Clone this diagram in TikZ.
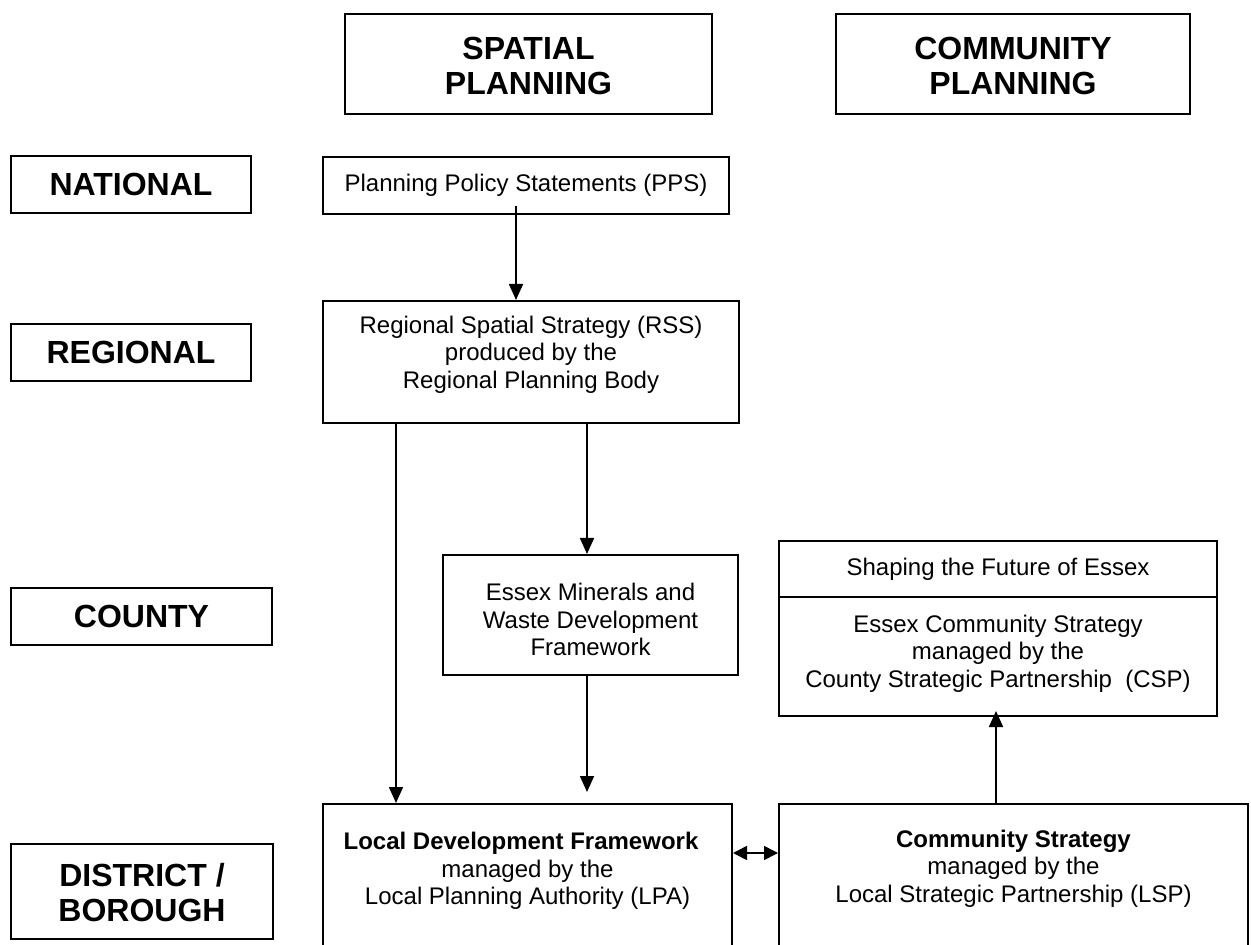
\documentclass[tikz,border=0pt]{standalone}
\usepackage{fontspec}
\setmainfont{Liberation Sans}
\usetikzlibrary{arrows.meta,fit}

\begin{document}
\begin{tikzpicture}[x=0.5pt,y=-0.5pt,
  box/.style={draw, line width=1pt, rectangle, inner sep=0pt},
  txt/.style={font=\fontsize{12}{13.7}\selectfont, align=center, inner sep=0pt},
  lbl/.style={font=\fontsize{16}{17.3}\selectfont\bfseries, align=center, inner sep=0pt},
  arr/.style={line width=0.85pt, -{Triangle[length=8pt,width=7pt]}},
  dblarr/.style={line width=0.85pt, {Triangle[length=7pt,width=7pt]}-{Triangle[length=7pt,width=7pt]}},
]
% page area
\useasboundingbox (0,0) rectangle (1251,945);
\fill[white] (0,0) rectangle (1251,945);
\clip (0,0) rectangle (1251,945);

% column headings
\node[box, fit={(345,14) (712,114)}] (spatial) {};
\node[lbl] (spatialtext) at ([yshift=-1pt]spatial.center) {SPATIAL\\PLANNING};
\node[box, fit={(836,14) (1190,114)}] (community) {};
\node[lbl] (communitytext) at ([yshift=-1pt]community.center) {COMMUNITY\\PLANNING};

% level labels
\node[box, fit={(11,156) (251,213)}] (national) {};
\node[lbl] (nationaltext) at (national.center) {NATIONAL};
\node[box, fit={(11,324) (251,381)}] (regional) {};
\node[lbl] (regionaltext) at (regional.center) {REGIONAL};
\node[box, fit={(11,588) (272,645)}] (county) {};
\node[lbl] (countytext) at (county.center) {COUNTY};
\node[box, fit={(11,844) (273,939)}] (district) {};
\node[lbl] (districttext) at ([yshift=-0.5pt]district.center) {DISTRICT /\\BOROUGH};

% spatial planning column
\node[box, fit={(323,157) (729,214)}] (pps) {};
\node[txt] (ppstext) at (pps.center) {Planning Policy Statements (PPS)};
\node[box, fit={(323,301) (739,423)}] (rss) {};
\node[txt] (rsstext) at (531,354.5) {Regional Spatial Strategy (RSS)\\produced by the\\Regional Planning Body};
\node[box, fit={(443,555) (738,675)}] (mw) {};
\node[txt] (mwtext) at (590.5,619.5) {Essex Minerals and\\Waste Development\\Framework};
\node[box, fit={(323,804) (732,1000)}] (ldf) {};
\node[txt] (ldftext) at (527.5,871) {\textbf{Local Development Framework}\kern6.5pt\\managed by the\\Local Planning Authority (LPA)};

% community planning column
\node[box, fit={(779,541) (1217,716)}] (csp) {};
\coordinate (ydiv) at (0,597);
\draw[line width=1pt] (csp.west |- ydiv) -- (csp.east |- ydiv);
\node[txt] (shapetext) at (998,569) {Shaping the Future of Essex};
\node[txt] (csptext) at (998,653.5) {Essex Community Strategy\\managed by the\\County Strategic Partnership~~(CSP)};
\node[box, fit={(779,804) (1248,1000)}] (lsp) {};
\node[txt] (lsptext) at (1013.5,868.5) {\textbf{Community Strategy}\\managed by the\\Local Strategic Partnership (LSP)};

% connector lanes
\coordinate (xa) at (516,0);
\coordinate (xb) at (396,0);
\coordinate (xc) at (587,0);
\coordinate (xd) at (996,0);
\coordinate (yd) at (0,853);

% connectors
\draw[arr] ([yshift=4.5pt]pps.south -| xa) -- (rss.north -| xa);
\draw[arr] (rss.south -| xb) -- (ldf.north -| xb);
\draw[arr] (rss.south -| xc) -- (mw.north -| xc);
\draw[arr, shorten >=5.5pt] (mw.south -| xc) -- (ldf.north -| xc);
\draw[arr, shorten >=-3pt] (lsp.north -| xd) -- (csp.south -| xd);
\draw[dblarr] (ldf.east |- yd) -- (lsp.west |- yd);
\end{tikzpicture}
\end{document}
